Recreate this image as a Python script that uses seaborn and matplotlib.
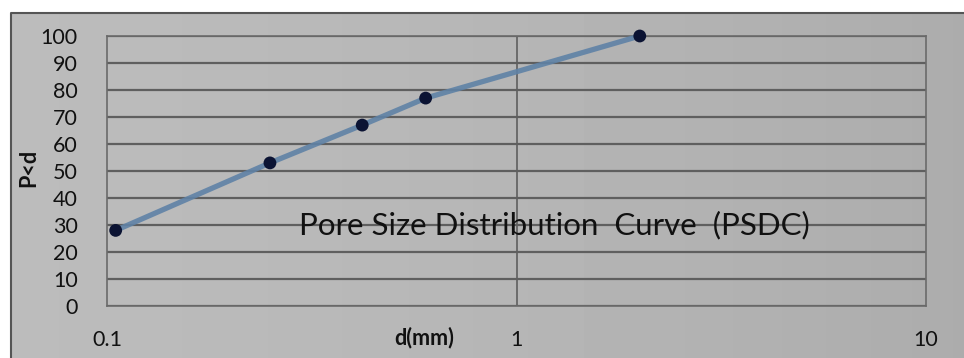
import numpy as np
import pandas as pd
import seaborn as sns
import matplotlib.pyplot as plt
from matplotlib.ticker import FixedLocator, NullLocator

# data
d_mm = [0.105, 0.25, 0.42, 0.6, 2.0]
p_less_d = [28, 53, 67, 77, 100]
y_ticks = [0, 10, 20, 30, 40, 50, 60, 70, 80, 90, 100]
x_ticks = [0.1, 1, 10]
x_tick_labels = ['0.1', '1', '10']
title_text = 'Pore Size Distribution  Curve  (PSDC)'

df = pd.DataFrame({'d': d_mm, 'P': p_less_d})

sns.set_style('white')
plt.rcParams['font.family'] = ['Lato', 'DejaVu Sans']

W, H = 964, 358
fig = plt.figure(figsize=(W / 100, H / 100), dpi=100)

# gray gradient background of the chart box
bg = fig.add_axes([0, 0, 1, 1], zorder=-5)
grad = np.linspace(0, 1, 256)
shade = 0.735 - 0.06 * grad ** 1.5
bg.imshow(np.tile(shade, (2, 1)), cmap='gray', vmin=0, vmax=1, aspect='auto',
          extent=[11 / W, 1, 0, 1 - 13 / H])
bg.set_xlim(0, 1)
bg.set_ylim(0, 1)
bg.plot([11 / W, 11 / W, 1], [0, 1 - 13 / H, 1 - 13 / H], color='#555555', lw=1.5)
bg.axis('off')

# plot area in pixels: left 107, right 926, top 36, bottom 306
ax = fig.add_axes([107 / W, 1 - 306 / H, (926 - 107) / W, (306 - 36) / H])
ax.patch.set_alpha(0)

sns.lineplot(data=df, x='d', y='P', ax=ax, color='#5f82a6', lw=3.8, alpha=0.9,
             zorder=3, clip_on=False)
sns.scatterplot(data=df, x='d', y='P', ax=ax, color='#0b1333', s=85,
                edgecolor='none', zorder=4, clip_on=False)

ax.set_xscale('log')
ax.set_xlim(0.1, 10)
ax.set_ylim(0, 100)
ax.xaxis.set_major_locator(FixedLocator(x_ticks))
ax.xaxis.set_minor_locator(NullLocator())
ax.set_xticks(x_ticks)
ax.set_xticklabels(x_tick_labels)
ax.set_yticks(y_ticks)

for y in y_ticks:
    ax.axhline(y, color='#5f5f5f', lw=1.6, zorder=1)
ax.axvline(1, color='#5f5f5f', lw=1.2, zorder=1)

for s in ax.spines.values():
    s.set_color('#6a6a6a')
    s.set_linewidth(1.2)

ax.tick_params(axis='both', length=0, labelsize=15.5, colors='#111111')
ax.tick_params(axis='y', pad=21)
ax.tick_params(axis='x', pad=17)

ax.set_xlabel('')
ax.set_ylabel('')
fig.text(424 / W, 1 - 338 / H, 'd(mm)', ha='center', va='center',
         fontsize=15.5, fontweight='bold', color='#111111')
fig.text(29 / W, 1 - 168 / H, 'P<d', ha='center', va='center', rotation=90,
         fontsize=15.5, fontweight='bold', color='#111111')

# chart title placed inside the plot area
fig.text(554 / W, 1 - 225 / H, title_text, ha='center', va='center',
         fontsize=22.5, color='#111111', zorder=5)

fig.savefig('out.png', dpi=100)
